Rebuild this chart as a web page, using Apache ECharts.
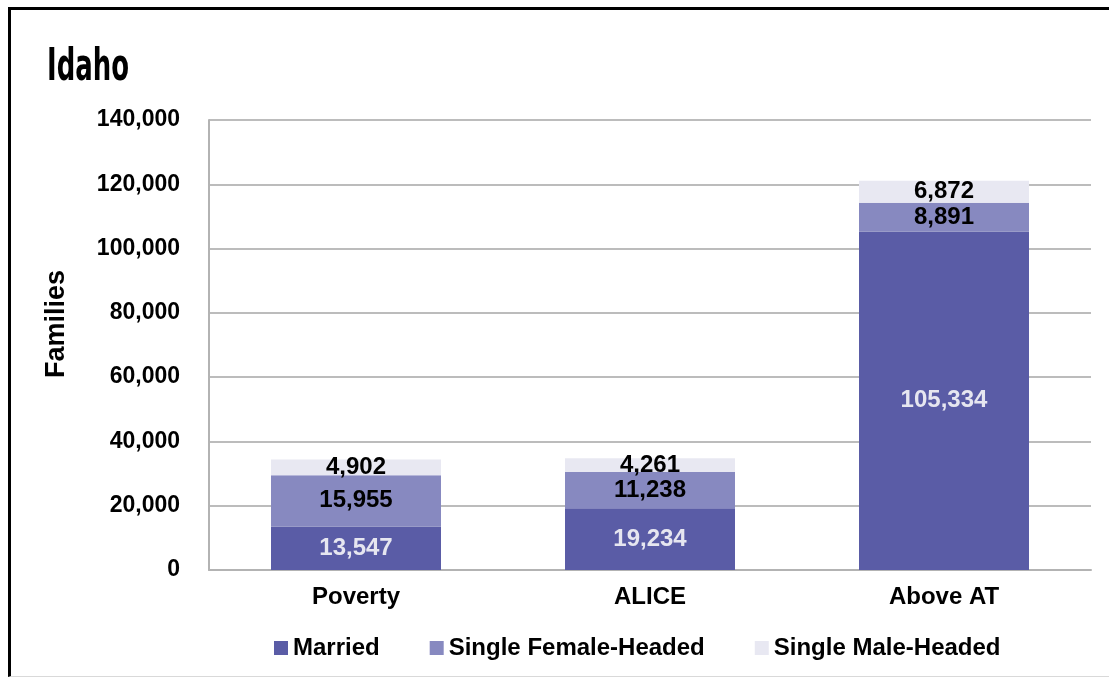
<!DOCTYPE html>
<html>
<head>
<meta charset="utf-8">
<script src="https://cdn.jsdelivr.net/npm/echarts@6/dist/echarts.min.js"></script>
<style>
  html, body { margin: 0; padding: 0; background: #fff; }
  #wrap { position: relative; width: 1109px; height: 677px; }
  #chart { width: 1109px; height: 677px; }
  #frame {
    position: absolute; left: 8px; top: 7px; right: 0; bottom: 0;
    border-top: 3px solid #000; border-left: 3px solid #000;
    border-bottom: 1px solid #d9d9d9;
    pointer-events: none;
  }
</style>
</head>
<body>
<div id="wrap">
  <div id="chart"></div>
  <div id="frame"></div>
</div>
<script>
const categories = ['Poverty', 'ALICE', 'Above AT']
const married = [13547, 19234, 105334]
const singleFemale = [15955, 11238, 8891]
const singleMale = [4902, 4261, 6872]
const yTicks = [0, 20000, 40000, 60000, 80000, 100000, 120000, 140000]

const font = 'Liberation Sans, Arial, sans-serif'
const fmt = v => Number(v).toLocaleString('en-US')

const chart = echarts.init(document.getElementById('chart'), null, { renderer: 'canvas' })

function seg(name, data, color, labelColor) {
  return {
    name,
    type: 'bar',
    stack: 'total',
    data,
    barWidth: 170,
    itemStyle: { color },
    label: {
      show: true,
      position: 'inside',
      color: labelColor,
      fontFamily: font,
      fontWeight: 'bold',
      fontSize: 24,
      formatter: p => fmt(p.value),
    },
  }
}

chart.setOption({
  animation: false,
  grid: { left: 209, right: 18, top: 120, bottom: 107 },
  legend: {
    left: 269,
    top: 631,
    itemWidth: 14,
    itemHeight: 14,
    itemGap: 50,
    icon: 'rect',
    textStyle: { fontFamily: font, fontWeight: 'bold', fontSize: 24, color: '#000' },
    data: ['Married', 'Single Female-Headed', 'Single Male-Headed'],
  },
  graphic: [{
    // title, squeezed to match the condensed face
    type: 'text',
    x: 47,
    y: 47,
    scaleX: 0.59,
    style: {
      text: 'Idaho',
      fontFamily: 'DejaVu Sans, sans-serif',
      fontWeight: 'bold',
      fontSize: 44,
      fill: '#000',
      align: 'left',
      verticalAlign: 'top',
    },
  }, {
    type: 'text',
    x: 57,
    y: 324,
    rotation: Math.PI / 2,
    style: {
      text: 'Families',
      fontFamily: font,
      fontWeight: 'bold',
      fontSize: 27,
      fill: '#000',
      align: 'center',
      verticalAlign: 'middle',
    },
  }],
  xAxis: {
    type: 'category',
    data: categories,
    axisTick: { show: false },
    axisLine: { lineStyle: { color: '#b3b3b3', width: 2 } },
    axisLabel: { color: '#000', fontFamily: font, fontWeight: 'bold', fontSize: 24, margin: 15 },
  },
  yAxis: {
    type: 'value',
    min: yTicks[0],
    max: yTicks[yTicks.length - 1],
    interval: yTicks[1] - yTicks[0],
    axisLine: { show: true, lineStyle: { color: '#b3b3b3', width: 2 } },
    axisTick: { show: false },
    splitLine: { lineStyle: { color: '#a6a6a6', width: 1.5 } },
    axisLabel: { color: '#000', fontFamily: font, fontWeight: 'bold', fontSize: 23, margin: 29, formatter: fmt },
  },
  series: [
    seg('Married', married, '#5a5ca6', '#e6e6f0'),
    seg('Single Female-Headed', singleFemale, '#8789c0', '#000'),
    seg('Single Male-Headed', singleMale, '#e8e8f2', '#000'),
  ],
})
</script>
</body>
</html>
